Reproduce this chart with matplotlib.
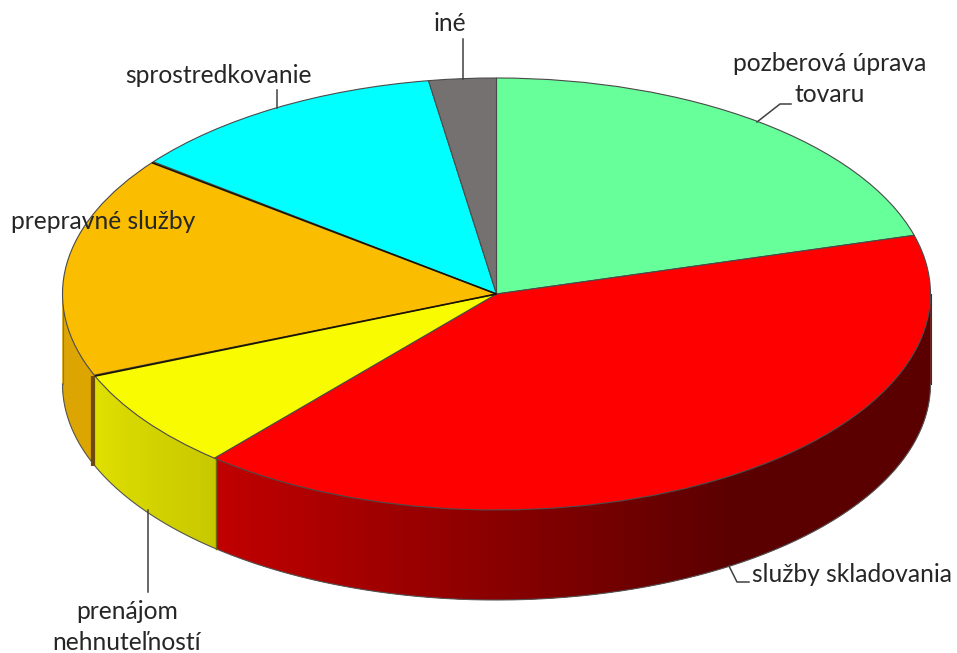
import numpy as np
import matplotlib
matplotlib.use("Agg")
import matplotlib.pyplot as plt

# shares, clockwise from the top
labels = ["pozberová úprava\ntovaru", "služby skladovania", "prenájom\nnehnuteľností",
          "prepravné služby", "sprostredkovanie", "iné"]
values = [20.6, 40.6, 7.6, 16.6, 12.0, 2.5]
colors = ["#66ff99", "#ff0000", "#f9fb00", "#fabd00", "#00ffff", "#767171"]

# wall colours (left end, right end) per slice
wall_left = ["#66ff99", "#c00000", "#e0e000", "#dca500", "#00ffff", "#767171"]
wall_right = ["#66ff99", "#5a0000", "#c8c800", "#dca500", "#00ffff", "#767171"]

W, H = 957, 653
cx, cy, rx, ry = 496.5, 294, 434, 216
depth = 90 / ry

# 1 data unit = rx pixels across, ry pixels up
fig = plt.figure(figsize=(W / 100, H / 100), dpi=100)
ax = fig.add_axes([0, 0, 1, 1])


def px(x, y):
    return (x - cx) / rx, (cy - y) / ry


# side walls, front half only
stops = (90 - np.cumsum([0] + values) * 3.6) % 360
for i in range(len(values)):
    a0 = max(stops[i + 1], 180)
    a1 = min(stops[i + 1] + values[i] * 3.6, 360)
    if a0 >= a1:
        continue
    th = np.radians(np.linspace(a0, a1, 160))
    rgb0 = np.array(matplotlib.colors.to_rgb(wall_left[i]))
    rgb1 = np.array(matplotlib.colors.to_rgb(wall_right[i]))
    for k in range(len(th) - 1):
        # each piece runs on under the next one so no seams show
        t = th[k:min(k + 4, len(th))]
        f = np.clip((np.cos(th[k]) - np.cos(th[0])) / 1.19, 0, 1)
        if i == 2:
            f = k / (len(th) - 1)
        c = rgb0 + (rgb1 - rgb0) * f
        xs = np.cos(t)
        ys = np.sin(t)
        ax.fill(np.r_[xs, xs[::-1]], np.r_[ys, ys[::-1] - depth], color=c, lw=0, zorder=1)

# outline of the wall
th = np.radians(np.linspace(180, 360, 300))
ax.plot(np.cos(th), np.sin(th) - depth, color="#555555", lw=0.8, zorder=2)
ax.plot([-1, -1], [0, -depth], color="#777777", lw=0.8, zorder=2)
ax.plot([1, 1], [0, -depth], color="#333333", lw=0.8, zorder=2)

# slice edges on the wall
b = np.radians(stops[2])
ax.plot([np.cos(b)] * 2, [np.sin(b), np.sin(b) - depth], color="#6b6b00", lw=1, zorder=2)
b = np.radians(stops[3])
ax.plot([np.cos(b) - 0.0035] * 2, [np.sin(b), np.sin(b) - depth],
        color="#6e4b0a", lw=3, solid_capstyle="butt", zorder=2)

# top face
wedges, _ = ax.pie(values, colors=colors, startangle=90, counterclock=False, radius=1,
                   wedgeprops={"edgecolor": "#4a4a4a", "linewidth": 0.8})
for w in wedges:
    w.set_zorder(3)

# the orange slice has heavier radial edges
for b in [stops[3], stops[4]]:
    ax.plot([0, np.cos(np.radians(b))], [0, np.sin(np.radians(b))], color="#1c1400", lw=1.2,
            solid_capstyle="butt", zorder=3.5)

ax.set_aspect("auto")
ax.set_xlim(-cx / rx, (W - cx) / rx)
ax.set_ylim(-(H - cy) / ry, cy / ry)
ax.axis("off")

# leader lines
leaders = [
    [(757, 122), (780, 104), (791, 104)],
    [(729, 566), (737, 582), (749, 582)],
    [(148, 510), (148, 592)],
    [(277, 108), (277, 90)],
    [(463, 79), (463, 39)],
]
for line in leaders:
    p = [px(*q) for q in line]
    ax.plot([q[0] for q in p], [q[1] for q in p], color="#404040", lw=1.1, zorder=4)

# label positions in pixels
label_pos = [(830, 79), (852, 575), (127, 627), (103, 222), (218, 76), (450, 24)]
for lab, pos in zip(labels, label_pos):
    x, y = px(*pos)
    ax.text(x, y, lab, family="Lato", fontsize=17.7, color="#262626", ha="center", va="center",
            linespacing=1.38, zorder=5)

fig.savefig("out.png", dpi=100)
